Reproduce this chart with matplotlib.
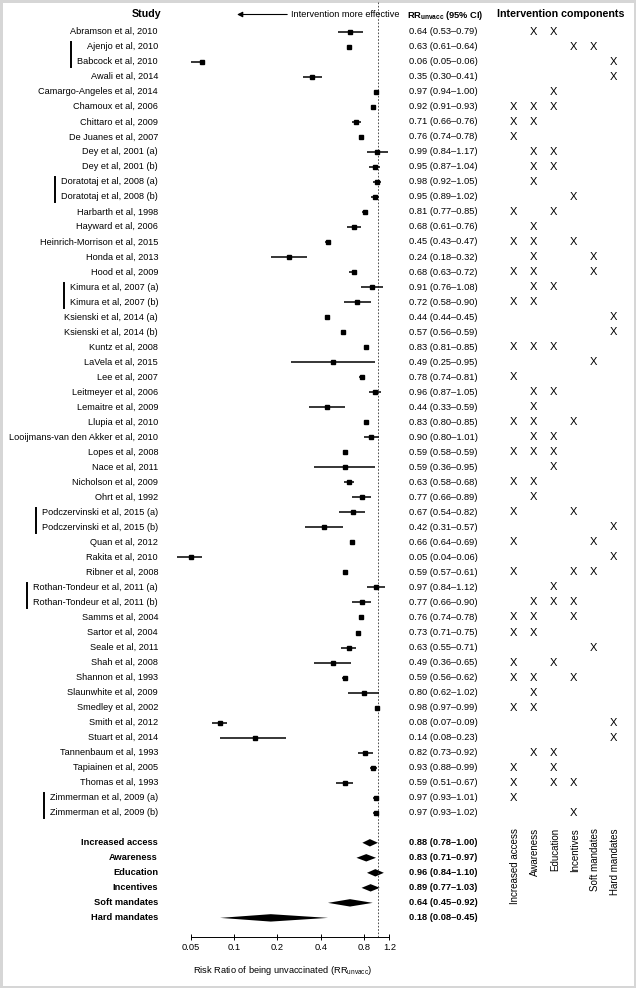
import matplotlib
matplotlib.use("Agg")
import matplotlib.pyplot as plt
from matplotlib.patches import Polygon
from matplotlib.ticker import FixedLocator, NullLocator

plt.rcParams['font.family'] = ['Liberation Sans', 'DejaVu Sans']
plt.rcParams['mathtext.fontset'] = 'custom'
plt.rcParams['mathtext.rm'] = 'Liberation Sans'
plt.rcParams['mathtext.bf'] = 'Liberation Sans:bold'
plt.rcParams['mathtext.it'] = 'Liberation Sans:italic'

# ---- data ----
studies = [
    "Abramson et al, 2010", "Ajenjo et al, 2010", "Babcock et al, 2010", "Awali et al, 2014",
    "Camargo-Angeles et al, 2014", "Chamoux et al, 2006", "Chittaro et al, 2009",
    "De Juanes et al, 2007", "Dey et al, 2001 (a)", "Dey et al, 2001 (b)",
    "Doratotaj et al, 2008 (a)", "Doratotaj et al, 2008 (b)", "Harbarth et al, 1998",
    "Hayward et al, 2006", "Heinrich-Morrison et al, 2015", "Honda et al, 2013",
    "Hood et al, 2009", "Kimura et al, 2007 (a)", "Kimura et al, 2007 (b)",
    "Ksienski et al, 2014 (a)", "Ksienski et al, 2014 (b)", "Kuntz et al, 2008",
    "LaVela et al, 2015", "Lee et al, 2007", "Leitmeyer et al, 2006", "Lemaitre et al, 2009",
    "Llupia et al, 2010", "Looijmans-van den Akker et al, 2010", "Lopes et al, 2008",
    "Nace et al, 2011", "Nicholson et al, 2009", "Ohrt et al, 1992",
    "Podczervinski et al, 2015 (a)", "Podczervinski et al, 2015 (b)", "Quan et al, 2012",
    "Rakita et al, 2010", "Ribner et al, 2008", "Rothan-Tondeur et al, 2011 (a)",
    "Rothan-Tondeur et al, 2011 (b)", "Samms et al, 2004", "Sartor et al, 2004",
    "Seale et al, 2011", "Shah et al, 2008", "Shannon et al, 1993", "Slaunwhite et al, 2009",
    "Smedley et al, 2002", "Smith et al, 2012", "Stuart et al, 2014", "Tannenbaum et al, 1993",
    "Tapiainen et al, 2005", "Thomas et al, 1993", "Zimmerman et al, 2009 (a)",
    "Zimmerman et al, 2009 (b)",
]
rr = [0.64, 0.63, 0.06, 0.35, 0.97, 0.92, 0.71, 0.76, 0.99, 0.95,
      0.98, 0.95, 0.81, 0.68, 0.45, 0.24, 0.68, 0.91, 0.72, 0.44,
      0.57, 0.83, 0.49, 0.78, 0.96, 0.44, 0.83, 0.90, 0.59, 0.59,
      0.63, 0.77, 0.67, 0.42, 0.66, 0.05, 0.59, 0.97, 0.77, 0.76,
      0.73, 0.63, 0.49, 0.59, 0.80, 0.98, 0.08, 0.14, 0.82, 0.93,
      0.59, 0.97, 0.97]
ci_lo = [0.53, 0.61, 0.05, 0.30, 0.94, 0.91, 0.66, 0.74, 0.84, 0.87,
         0.92, 0.89, 0.77, 0.61, 0.43, 0.18, 0.63, 0.76, 0.58, 0.44,
         0.56, 0.81, 0.25, 0.74, 0.87, 0.33, 0.80, 0.80, 0.58, 0.36,
         0.58, 0.66, 0.54, 0.31, 0.64, 0.04, 0.57, 0.84, 0.66, 0.74,
         0.71, 0.55, 0.36, 0.56, 0.62, 0.97, 0.07, 0.08, 0.73, 0.88,
         0.51, 0.93, 0.93]
ci_hi = [0.79, 0.64, 0.06, 0.41, 1.00, 0.93, 0.76, 0.78, 1.17, 1.04,
         1.05, 1.02, 0.85, 0.76, 0.47, 0.32, 0.72, 1.08, 0.90, 0.45,
         0.59, 0.85, 0.95, 0.81, 1.05, 0.59, 0.85, 1.01, 0.59, 0.95,
         0.68, 0.89, 0.82, 0.57, 0.69, 0.06, 0.61, 1.12, 0.90, 0.78,
         0.75, 0.71, 0.65, 0.62, 1.02, 0.99, 0.09, 0.23, 0.92, 0.99,
         0.67, 1.01, 1.02]
# A=increased access, W=awareness, E=education, I=incentives, S=soft, H=hard mandates
components = ["WE", "IS", "H", "H", "E", "AWE", "AW", "A", "WE", "WE",
              "W", "I", "AE", "W", "AWI", "WS", "AWS", "WE", "AW", "H",
              "H", "AWE", "S", "A", "WE", "W", "AWI", "WE", "AWE", "E",
              "AW", "W", "AI", "H", "AS", "H", "AIS", "E", "WEI", "AWI",
              "AW", "S", "AE", "AWI", "W", "AW", "H", "H", "WE", "AE",
              "AEI", "A", "I"]
component_keys = "AWEISH"
component_names = ["Increased access", "Awareness", "Education", "Incentives",
                   "Soft mandates", "Hard mandates"]
linked = [("Ajenjo et al, 2010", "Babcock et al, 2010"),
          ("Doratotaj et al, 2008 (a)", "Doratotaj et al, 2008 (b)"),
          ("Kimura et al, 2007 (a)", "Kimura et al, 2007 (b)"),
          ("Podczervinski et al, 2015 (a)", "Podczervinski et al, 2015 (b)"),
          ("Rothan-Tondeur et al, 2011 (a)", "Rothan-Tondeur et al, 2011 (b)"),
          ("Zimmerman et al, 2009 (a)", "Zimmerman et al, 2009 (b)")]

summary_names = component_names
summary_rr = [0.88, 0.83, 0.96, 0.89, 0.64, 0.18]
summary_lo = [0.78, 0.71, 0.84, 0.77, 0.45, 0.08]
summary_hi = [1.00, 0.97, 1.10, 1.03, 0.92, 0.45]

axis_ticks = [0.05, 0.1, 0.2, 0.4, 0.8, 1.2]
axis_ticklabels = ["0.05", "0.1", "0.2", "0.4", "0.8", "1.2"]

# ---- layout (pixels) ----
W, H = 636, 988
ROW0, STEP = 31.7, 15.02
AXIS_Y = 937
FS = 6.7

fig = plt.figure(figsize=(W / 100, H / 100), dpi=100)
fig.patch.set_edgecolor('#d6d6d6')
fig.patch.set_linewidth(2.2)

cv = fig.add_axes([0, 0, 1, 1])
cv.set_xlim(0, W)
cv.set_ylim(H, 0)
cv.axis('off')

left_px, right_px = 158.8, 421.2
ax = fig.add_axes([left_px / W, 0, (right_px - left_px) / W, 1])
ax.patch.set_alpha(0)
ax.set_xscale('log')
ax.set_xlim(0.03, 2.0)
ax.set_ylim(H, 0)
for s in ['top', 'left', 'right']:
    ax.spines[s].set_visible(False)
ax.spines['bottom'].set_position(('data', AXIS_Y))
ax.spines['bottom'].set_bounds(axis_ticks[0], axis_ticks[-1])
ax.spines['bottom'].set_linewidth(0.7)
ax.yaxis.set_visible(False)
ax.xaxis.set_major_locator(FixedLocator(axis_ticks))
ax.xaxis.set_minor_locator(NullLocator())
ax.set_xticklabels(axis_ticklabels)
ax.tick_params(axis='x', direction='inout', length=4.5, width=0.7,
               labelsize=FS, pad=2.3)

# headers
cv.text(161, 14, "Study", ha='right', va='center', fontsize=7.7, fontweight='bold')
cv.text(560.5, 14, "Intervention components", ha='center', va='center',
        fontsize=7.7, fontweight='bold')
cv.text(407, 15, r"$\mathbf{RR}_{\mathbf{unvacc}}$ (95% CI)", ha='left', va='center',
        fontsize=FS, fontweight='bold')
cv.annotate("", xy=(234.3, 14.5), xytext=(290, 14.5),
            arrowprops=dict(arrowstyle='-|>', lw=0.8, color='black', mutation_scale=8))
cv.text(290.7, 14.5, "Intervention more effective", ha='left', va='center', fontsize=6.6)

# dashed null line
ax.plot([1, 1], [2, AXIS_Y], ls=(0, (2, 2)), lw=0.6, color='#333333')

col_x = [513.3 + 20 * k for k in range(len(component_keys))]

name_text = {}
for i, name in enumerate(studies):
    y = ROW0 + i * STEP
    name_text[name] = cv.text(158, y, name, ha='right', va='center', fontsize=6.6)
    cv.text(409, y, f"{rr[i]:.2f} ({ci_lo[i]:.2f}\u2013{ci_hi[i]:.2f})",
            ha='left', va='center', fontsize=FS)
    for c in components[i]:
        cv.text(col_x[component_keys.index(c)], y, "X", ha='center', va='center', fontsize=8)
    ax.plot([ci_lo[i], ci_hi[i]], [y, y], color='black', lw=1.1, solid_capstyle='butt')
    ax.plot(rr[i], y, 's', color='black', ms=3)

# pooled estimates
for j, name in enumerate(summary_names):
    y = ROW0 + (len(studies) + 1 + j) * STEP
    cv.text(158, y, name, ha='right', va='center', fontsize=FS, fontweight='bold')
    cv.text(409, y, f"{summary_rr[j]:.2f} ({summary_lo[j]:.2f}\u2013{summary_hi[j]:.2f})",
            ha='left', va='center', fontsize=FS, fontweight='bold')
    h = 3.7
    ax.add_patch(Polygon([(summary_lo[j], y), (summary_rr[j], y - h),
                          (summary_hi[j], y), (summary_rr[j], y + h)],
                         closed=True, color='black', lw=0))

for k, name in enumerate(component_names):
    cv.text(col_x[k] + 1.5, 828, name, rotation=90, ha='center', va='top', fontsize=7)

cv.text(283, 970.7, r"Risk Ratio of being unvaccinated (RR$_{\mathrm{unvacc}}$)",
        ha='center', va='center', fontsize=FS)

# brackets joining linked studies
fig.canvas.draw()
renderer = fig.canvas.get_renderer()
inv = cv.transData.inverted()
for a, b in linked:
    lefts = []
    for n in (a, b):
        bb = name_text[n].get_window_extent(renderer)
        lefts.append(inv.transform((bb.x0, bb.y0))[0])
    x = min(lefts) - 6
    ya = ROW0 + studies.index(a) * STEP
    yb = ROW0 + studies.index(b) * STEP
    cv.plot([x, x], [ya - 4.5, yb + 5.5], color='black', lw=1.4)

fig.savefig("out.png", dpi=100)
